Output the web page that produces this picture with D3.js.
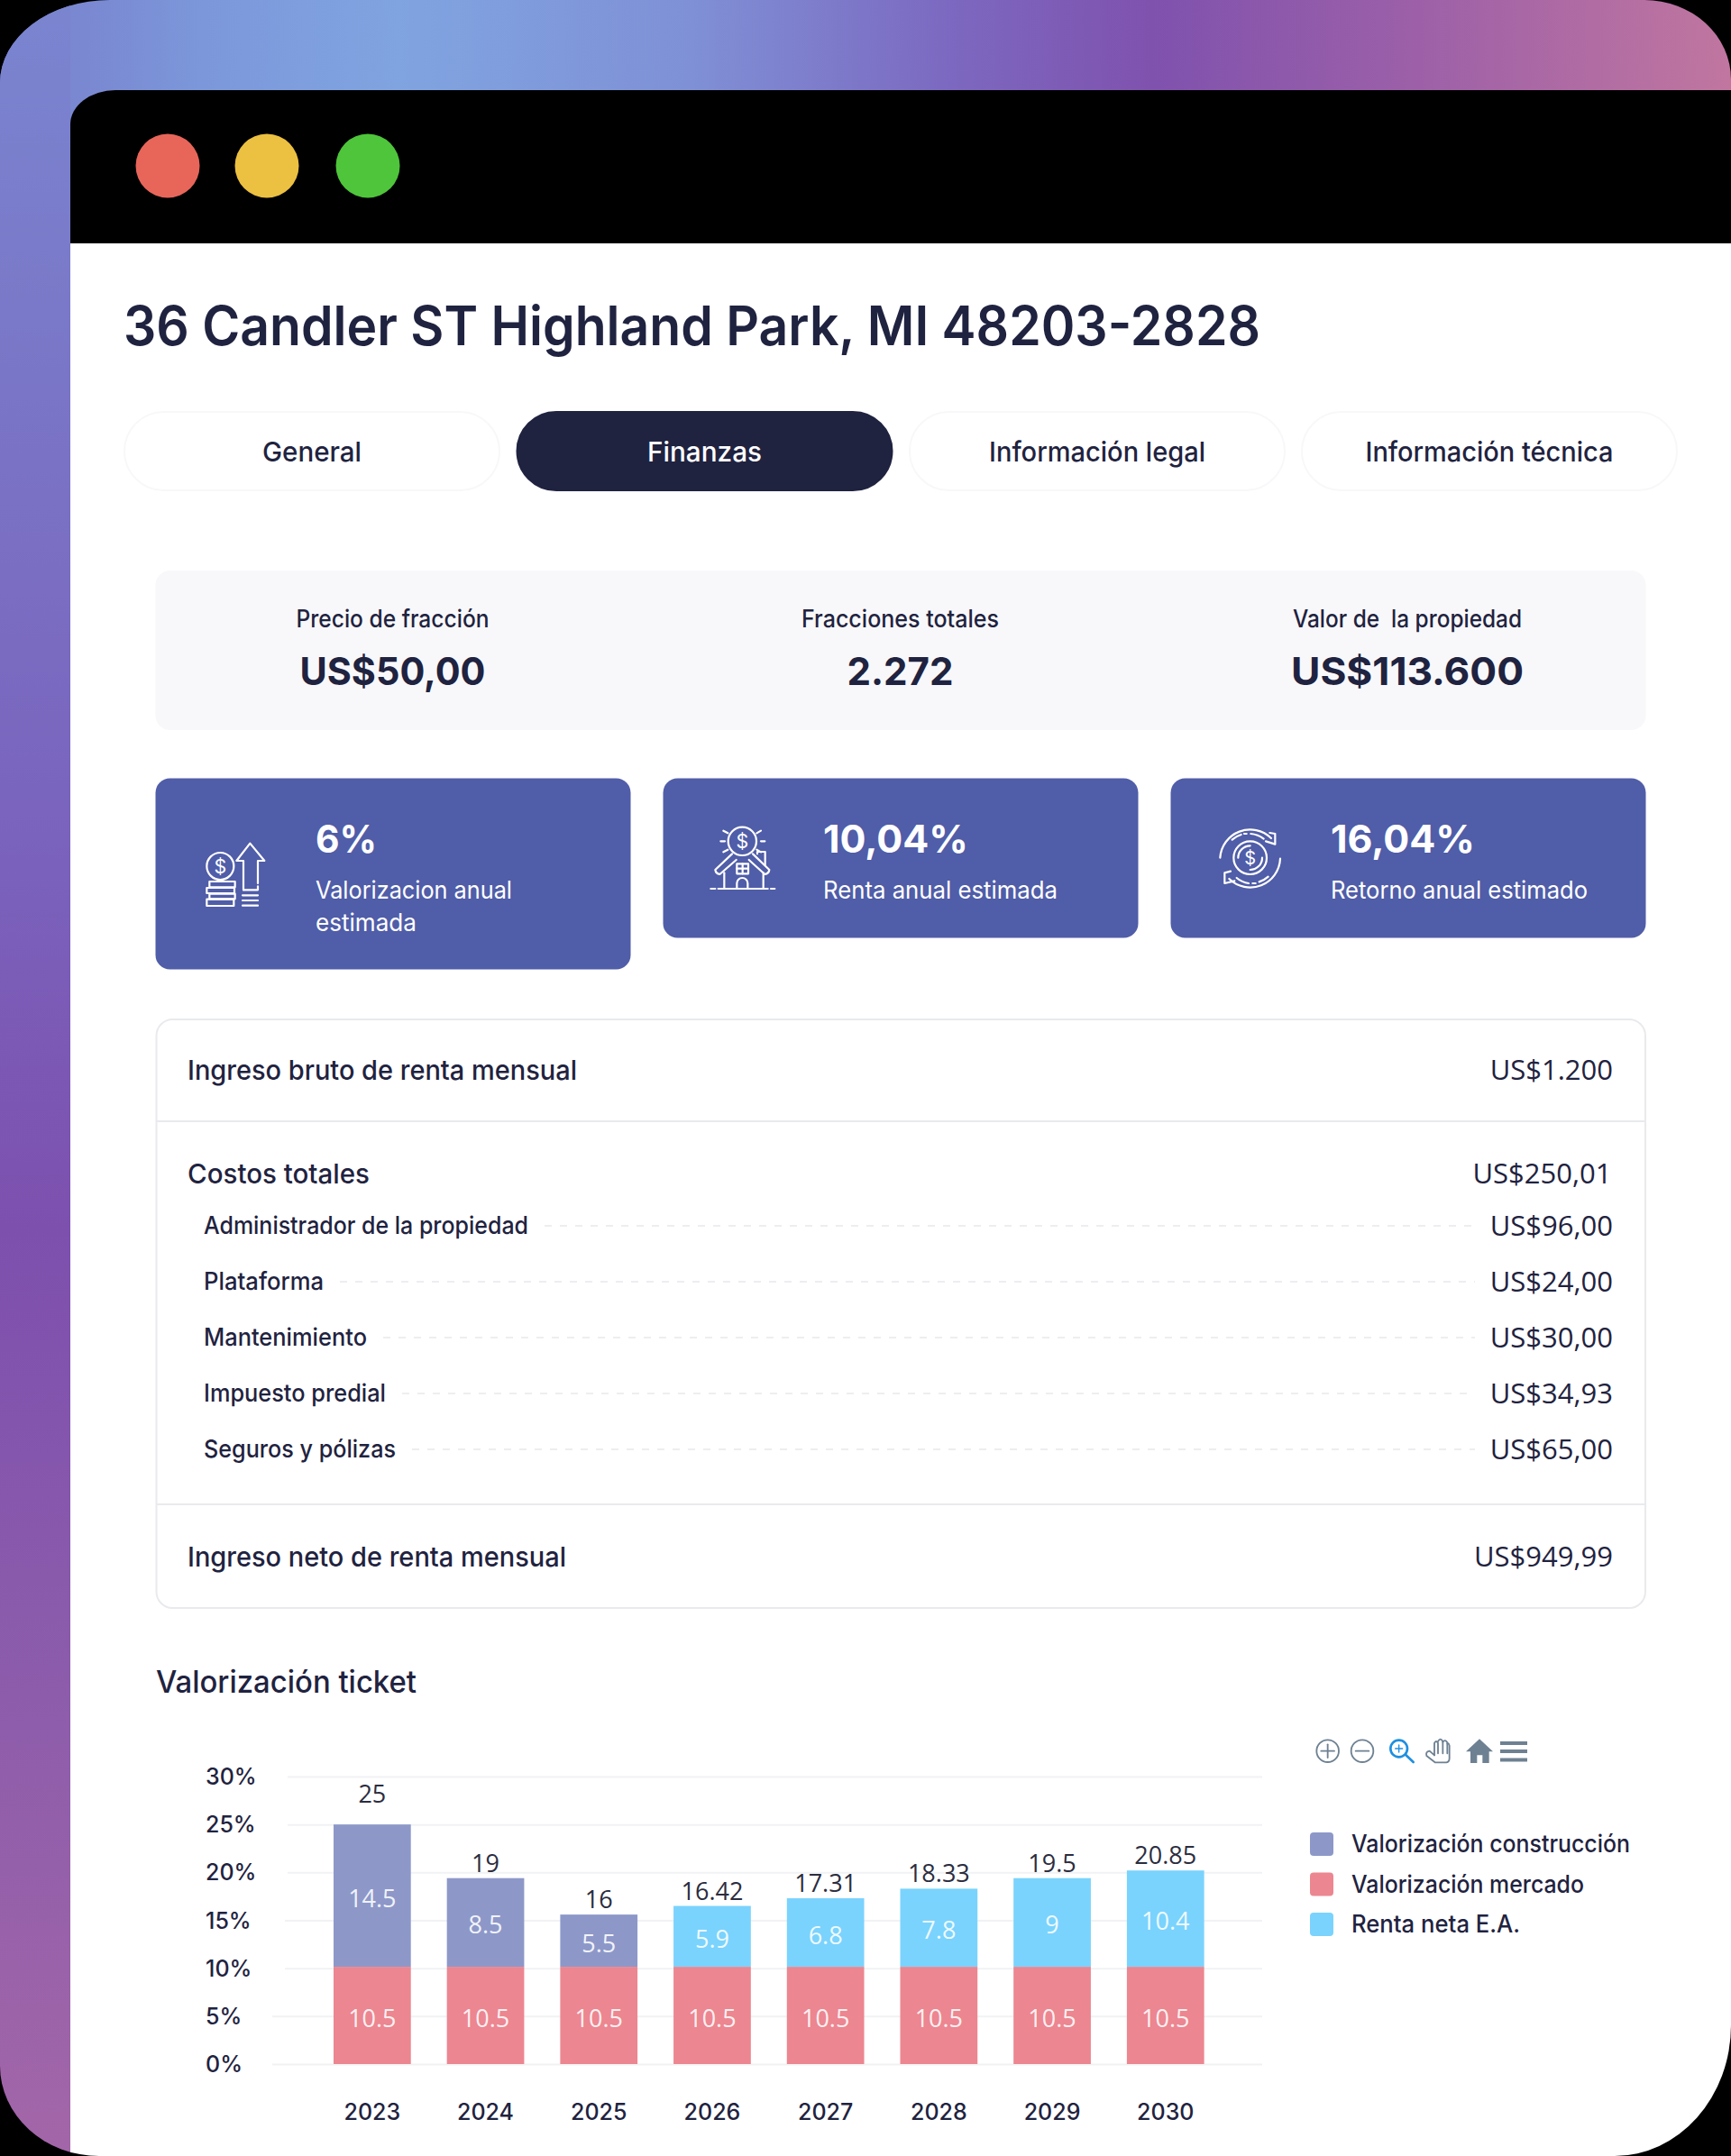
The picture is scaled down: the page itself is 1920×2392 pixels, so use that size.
<!DOCTYPE html>
<html>
<head>
<meta charset="utf-8">
<script src="https://cdn.jsdelivr.net/npm/d3@7"></script>
<style>
    html, body { margin: 0; background: #000; }
    svg { display: block; }
    text { white-space: pre; }
</style>
</head>
<body>
<svg id="page" width="1920" height="2392" viewBox="0 0 1920 2392"></svg>
<script>
const years = ["2023", "2024", "2025", "2026", "2027", "2028", "2029", "2030"]
const market = [10.15, 10.15, 10.15, 10.15, 10.15, 10.15, 10.15, 10.15]
const construction = [14.85, 9.25, 5.45, 0, 0, 0, 0, 0]
const renta = [0, 0, 0, 6.35, 7.15, 8.15, 9.25, 10.05]
const marketLabels = ["10.5", "10.5", "10.5", "10.5", "10.5", "10.5", "10.5", "10.5"]
const constructionLabels = ["14.5", "8.5", "5.5", "", "", "", "", ""]
const rentaLabels = ["", "", "", "5.9", "6.8", "7.8", "9", "10.4"]
const totalLabels = ["25", "19", "16", "16.42", "17.31", "18.33", "19.5", "20.85"]
const yTicks = [0, 5, 10, 15, 20, 25, 30]
const legendNames = ["Valorización construcción", "Valorización mercado", "Renta neta E.A."]

const seriesColors = { market: "#ec8690", construction: "#8d98c9", renta: "#7ad3fd" }

// page texts
const tabs = ["General", "Finanzas", "Información legal", "Información técnica"]
const summaryLabels = ["Precio de fracción", "Fracciones totales", "Valor de  la propiedad"]
const summaryValues = ["US$50,00", "2.272", "US$113.600"]
const costNames = ["Administrador de la propiedad", "Plataforma", "Mantenimiento", "Impuesto predial", "Seguros y pólizas"]
const costValues = ["US$96,00", "US$24,00", "US$30,00", "US$34,93", "US$65,00"]

const ink = "#1f2340"
const sans = "Inter, 'Liberation Sans', sans-serif"
const openSans = "'Open Sans', sans-serif"

const svg = d3.select("#page")

const put = (parent, str, x, y, o = {}) => {
    const t = parent.append("text")
        .attr("x", x).attr("y", y)
        .attr("font-family", o.font || sans)
        .attr("font-size", o.size || 27)
        .attr("font-weight", o.weight || 500)
        .attr("fill", o.fill || ink)
        .attr("text-anchor", o.anchor || "start")
        .text(str)
    // the original face is narrower than anything installed
    if (o.width) t.attr("textLength", o.width).attr("lengthAdjust", "spacingAndGlyphs")
    return t
}

// gradient frame ---------------------------------------------------------

const defs = svg.append("defs")

const gradient = (id, horizontal, stops) => {
    const g = defs.append("linearGradient").attr("id", id)
        .attr("x1", 0).attr("y1", 0)
        .attr("x2", horizontal ? 1 : 0).attr("y2", horizontal ? 0 : 1)
    stops.forEach(([o, c]) => g.append("stop").attr("offset", o).attr("stop-color", c))
}

gradient("topStrip", true, [[0, "#7a85d0"], [0.05, "#7a88d1"], [0.12, "#7c98db"], [0.23, "#80a4e0"], [0.4, "#7f90d6"], [0.55, "#7c68c0"], [0.665, "#7f52ae"], [0.82, "#9d60a8"], [1, "#c0769f"]])
gradient("leftStrip", false, [[0, "#7a85d0"], [0.15, "#7a78c8"], [0.4, "#7a62bc"], [0.57, "#7d50ae"], [0.8, "#8e5dab"], [1, "#a366a8"]])

defs.append("clipPath").attr("id", "frame").append("path")
    .attr("d", "M0,92 A122,92 0 0 1 122,0 H1824 A96,88 0 0 1 1920,88 V2247 A129,145 0 0 1 1791,2392 H110 A110,100 0 0 1 0,2292 Z")

const frame = svg.append("g").attr("clip-path", "url(#frame)")
frame.append("rect").attr("width", 1920).attr("height", 140).attr("fill", "url(#topStrip)")
frame.append("rect").attr("width", 78).attr("height", 2392).attr("fill", "url(#leftStrip)")
frame.append("rect").attr("x", 78).attr("y", 270).attr("width", 1842).attr("height", 2122).attr("fill", "#fff")
frame.append("path").attr("d", "M78,270 V138 A50,38 0 0 1 128,100 H1920 V270 Z").attr("fill", "#000")

const dots = [[186, "#e8655a"], [296, "#ecc040"], [408, "#4ec53a"]]
dots.forEach(([cx, c]) => svg.append("circle").attr("cx", cx).attr("cy", 184).attr("r", 35.5).attr("fill", c))

// header -----------------------------------------------------------------

put(svg, "36 Candler ST Highland Park, MI 48203-2828", 137, 383, { size: 60, weight: 600, width: 1261 })

const tabBoxes = [[138, 416], [573.5, 416], [1009, 416], [1444, 416]]
const tabWidths = [110, 127, 240, 275]
tabs.forEach((name, i) => {
    const [x, w] = tabBoxes[i]
    const active = i === 1
    svg.append("rect").attr("x", x).attr("y", 457).attr("width", w).attr("height", 87).attr("rx", 43.5)
        .attr("fill", active ? ink : "#fff").attr("stroke", active ? ink : "#f8f8fa").attr("stroke-width", 2)
    put(svg, name, x + w / 2, 511.5, { size: 30, anchor: "middle", fill: active ? "#fff" : ink, width: tabWidths[i] })
})

// summary panel ----------------------------------------------------------

svg.append("rect").attr("x", 172.5).attr("y", 633).attr("width", 1653).attr("height", 177).attr("rx", 16).attr("fill", "#f8f8fa")

const summaryX = [435.5, 998.5, 1561]
const summaryLabelW = [214, 219, 254]
const summaryValueW = [206, 118, 258]
summaryX.forEach((x, i) => {
    put(svg, summaryLabels[i], x, 695.5, { anchor: "middle", width: summaryLabelW[i] })
    put(svg, summaryValues[i], x, 760, { size: 43, weight: 700, anchor: "middle", width: summaryValueW[i] })
})

// blue cards -------------------------------------------------------------

const cards = [
    { x: 172.5, h: 212, big: "6%", bigW: 68, lines: [["Valorizacion anual", 218], ["estimada", 112]], tx: 350 },
    { x: 735.5, h: 177, big: "10,04%", bigW: 161, lines: [["Renta anual estimada", 260]], tx: 913 },
    { x: 1298.5, h: 177, big: "16,04%", bigW: 160, lines: [["Retorno anual estimado", 285]], tx: 1476 }
]
cards.forEach(c => {
    svg.append("rect").attr("x", c.x).attr("y", 863.5).attr("width", 527).attr("height", c.h).attr("rx", 16).attr("fill", "#505da8")
    put(svg, c.big, c.tx, 946, { size: 42, weight: 700, fill: "#fff", width: c.bigW })
    c.lines.forEach(([str, w], i) => put(svg, str, c.tx, 997 + i * 35.5, { weight: 400, fill: "#fff", width: w }))
})

// icons are drawn in 3x crop pixels, hence the scale
const icon = (x, y, sw = 6.6, stroke = "#fff") => svg.append("g")
    .attr("transform", `translate(${x},${y}) scale(${1 / 3})`)
    .attr("fill", "none").attr("stroke", stroke).attr("stroke-width", sw)
    .attr("stroke-linecap", "round").attr("stroke-linejoin", "round")

const draw = (g, paths) => paths.forEach(d => g.append("path").attr("d", d))
const dollar = (g, x, y, size) => g.append("text").attr("x", x).attr("y", y)
    .attr("font-family", sans).attr("font-size", size).attr("text-anchor", "middle")
    .attr("fill", "#fff").attr("stroke", "none").text("$")

const icon1 = icon(200, 880)
icon1.append("circle").attr("cx", 133).attr("cy", 243).attr("r", 45)
dollar(icon1, 133, 266, 64)
;[[97, 294, 85, 19], [88, 315, 92, 18], [97, 335, 85, 17], [88, 353, 90, 22]].forEach(([x, y, w, h]) =>
    icon1.append("rect").attr("x", x).attr("y", y).attr("width", w).attr("height", h))
draw(icon1, [
    "M210,322 V225 H187 L232,167 L280,225 H258 V300",
    "M210,322 H258 V310",
    "M207,340 H258", "M207,357 H258", "M207,374 H258"
])

const icon2 = icon(770, 900)
icon2.append("circle").attr("cx", 160).attr("cy", 100).attr("r", 47)
dollar(icon2, 160, 122, 64)
draw(icon2, [
    "M97,65 L112,73", "M222,65 L208,73", "M88,100 H102", "M222,100 H235", "M97,136 L112,128", "M222,136 L208,128",
    "M126,142 L70,195 Q72,208 85,210 L140,162", "M195,142 L250,195 Q248,208 235,210 L182,162",
    "M100,205 V258", "M230,205 V258",
    "M80,258 H245", "M55,258 H70", "M255,258 H268",
    "M142,175 H180 V208 H142 Z", "M161,175 V208", "M142,191 H180",
    "M142,258 V240 A18,18 0 0 1 178,240 V258",
    "M210,142 V135 H236 V180"
])

const icon3 = icon(1330, 900)
icon3.append("circle").attr("cx", 170).attr("cy", 155).attr("r", 55)
dollar(icon3, 170, 178, 60)
draw(icon3, [
    "M70,155 A100,100 0 0 1 240,90",
    "M270,158 A100,100 0 0 1 100,225",
    "M235,72 L253,75 V110 L222,100",
    "M105,200 L85,205 V240 L118,232",
    "M110,95 A75,75 0 0 1 140,78", "M150,75 H158", "M172,75 A80,80 0 0 1 215,92",
    "M230,218 A75,75 0 0 1 200,235", "M188,240 H178", "M165,240 A80,80 0 0 1 125,222",
    "M130,155 A40,40 0 0 1 170,115", "M210,155 A40,40 0 0 1 170,195"
])

// cost table -------------------------------------------------------------

svg.append("rect").attr("x", 173.5).attr("y", 1131).attr("width", 1651.5).attr("height", 653).attr("rx", 18)
    .attr("fill", "#fff").attr("stroke", "#e9eaed").attr("stroke-width", 2)
;[1244, 1669].forEach(y => svg.append("line").attr("x1", 173.5).attr("x2", 1825).attr("y1", y).attr("y2", y)
    .attr("stroke", "#e9eaed").attr("stroke-width", 2))

const tableRows = [
    ["Ingreso bruto de renta mensual", 432, "US$1.200", 1198, 1789],
    ["Costos totales", 202, "US$250,01", 1313, 1787.5],
    ["Ingreso neto de renta mensual", 420, "US$949,99", 1738, 1789]
]
tableRows.forEach(([name, w, val, y, right]) => {
    put(svg, name, 208, y, { size: 30, width: w })
    put(svg, val, right, y, { font: openSans, weight: 400, size: 31, anchor: "end" })
})

const costWidths = [360, 133, 181, 202, 213]
const costY = [1360, 1422, 1484, 1546, 1608]
costNames.forEach((name, i) => {
    put(svg, name, 226, costY[i] + 9, { width: costWidths[i] })
    put(svg, costValues[i], 1789, costY[i] + 11, { font: openSans, weight: 400, size: 31, anchor: "end" })
    svg.append("line").attr("x1", 226 + costWidths[i] + 18).attr("x2", 1636).attr("y1", costY[i]).attr("y2", costY[i])
        .attr("stroke", "#eeeef1").attr("stroke-width", 2).attr("stroke-dasharray", "8 9")
})

// stacked bars -----------------------------------------------------------

put(svg, "Valorización ticket", 173, 1878, { size: 34, width: 289 })

const rows = years.map((y, i) => ({ year: y, market: market[i], construction: construction[i], renta: renta[i] }))
const labelsByKey = { market: marketLabels, construction: constructionLabels, renta: rentaLabels }
const stacked = d3.stack().keys(["market", "construction", "renta"])(rows)

const x = d3.scaleBand().domain(years).range([330, 1375.6]).padding(0.318)
const y = d3.scaleLinear().domain([0, 30]).range([2290, 1971])

const gridStart = d => d <= 5 ? 302 : d <= 15 ? 316 : 319

const yAxis = svg.append("g")
    .attr("transform", "translate(1400,0)")
    .call(d3.axisLeft(y).tickValues(yTicks).tickFormat(d => d + "%").tickSize(0))
yAxis.select(".domain").remove()
yAxis.selectAll(".tick line")
    .attr("x1", 0).attr("x2", d => gridStart(d) - 1400)
    .attr("stroke", "#f1f2f4").attr("stroke-width", 2)
yAxis.selectAll(".tick text")
    .attr("x", 228 - 1400).attr("dy", 8.5).attr("text-anchor", "start")
    .attr("font-family", sans).attr("font-size", 25).attr("font-weight", 500).attr("fill", ink)

const xAxis = svg.append("g")
    .attr("transform", "translate(0,2290)")
    .call(d3.axisBottom(x).tickSize(0))
xAxis.select(".domain").remove()
xAxis.selectAll(".tick text")
    .attr("y", 61.5).attr("dy", 0)
    .attr("font-family", sans).attr("font-size", 25).attr("font-weight", 500).attr("fill", ink)

stacked.forEach(s => {
    const g = svg.append("g")
    g.selectAll("rect").data(s.filter(d => d[1] > d[0])).join("rect")
        .attr("x", d => x(d.data.year))
        .attr("width", x.bandwidth())
        .attr("y", d => y(d[1]))
        .attr("height", d => y(d[0]) - y(d[1]))
        .attr("fill", seriesColors[s.key])
    g.selectAll("text").data(s.filter(d => d[1] > d[0])).join("text")
        .attr("x", d => x(d.data.year) + x.bandwidth() / 2)
        .attr("y", d => y((d[0] + d[1]) / 2) + 12.5)
        .attr("text-anchor", "middle")
        .attr("font-family", openSans).attr("font-size", 27).attr("fill", "#fff").attr("fill-opacity", 0.9)
        .text(d => labelsByKey[s.key][years.indexOf(d.data.year)])
})

const stackTop = stacked[stacked.length - 1]
svg.append("g").selectAll("text").data(stackTop).join("text")
    .attr("x", d => x(d.data.year) + x.bandwidth() / 2)
    .attr("y", (d, i) => y(d[1]) - (i === 0 ? 24 : 7))
    .attr("text-anchor", "middle")
    .attr("font-family", openSans).attr("font-size", 27).attr("fill", "#2b2d3f")
    .text((d, i) => totalLabels[i])

// legend -----------------------------------------------------------------

const legendColors = [seriesColors.construction, seriesColors.market, seriesColors.renta]
const legendWidths = [309, 258, 187]
const legendY = d3.scalePoint().domain(legendNames).range([2033, 2122])
legendNames.forEach((name, i) => {
    svg.append("rect").attr("x", 1453).attr("y", legendY(name)).attr("width", 26).attr("height", 26).attr("rx", 4).attr("fill", legendColors[i])
    put(svg, name, 1499, legendY(name) + 22, { width: legendWidths[i] })
})

// toolbar ----------------------------------------------------------------

const gray = "#6e8192"
const tools = icon(1441, 1910, 5.5, gray)
tools.append("circle").attr("cx", 95).attr("cy", 98).attr("r", 37)
tools.append("circle").attr("cx", 210).attr("cy", 98).attr("r", 37)
draw(tools, [
    "M95,76 V120", "M73,98 H117", "M188,98 H232",
    "M450,112 V72 Q456,60 462,72 V106", "M462,66 Q470,52 478,66 V106", "M478,68 Q486,58 493,70 V106",
    "M450,112 L434,98 Q420,100 424,114 L452,136 H490 Q500,134 500,122 V80 Q497,70 493,74"
])
const lens = icon(1441, 1910, 8, "#1e8fe0")
lens.append("circle").attr("cx", 332).attr("cy", 90).attr("r", 28)
draw(lens, ["M354,110 L380,135"])
lens.append("path").attr("stroke-width", 4).attr("d", "M332,78 V102 M320,90 H344")
icon(1441, 1910, 0).append("path").attr("fill", gray)
    .attr("d", "M600,58 L645,100 H632 V138 H610 V112 H592 V138 H570 V100 H555 Z")
;[1934, 1943, 1952.5].forEach(ly => svg.append("line").attr("x1", 1664).attr("x2", 1694).attr("y1", ly).attr("y2", ly)
    .attr("stroke", gray).attr("stroke-width", 4))
</script>
</body>
</html>
